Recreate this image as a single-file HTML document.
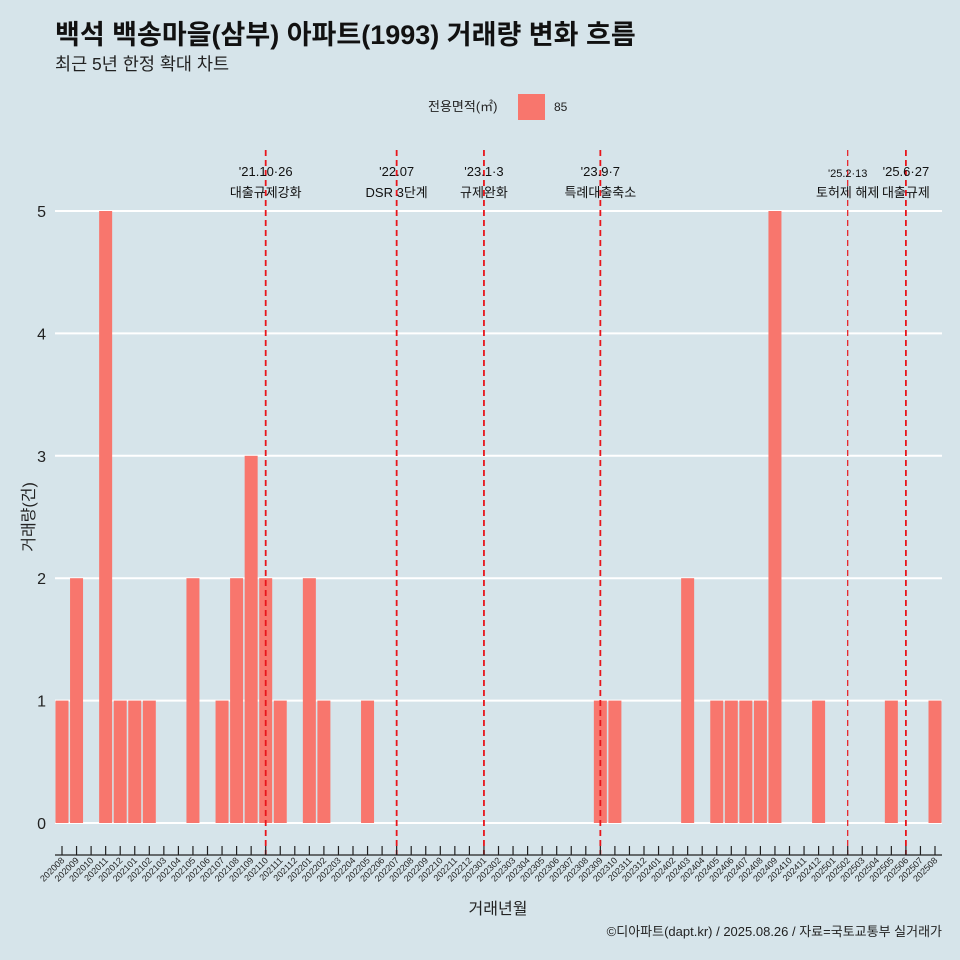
<!DOCTYPE html>
<html><head><meta charset="utf-8"><style>
body{margin:0;background:#d6e4ea;}
svg{display:block;font-family:"Liberation Sans","Noto Sans CJK KR",sans-serif;}
</style></head><body>
<svg id="chart" width="960" height="960">
<rect width="960" height="960" fill="#d6e4ea"/>
<text x="55" y="44" font-size="27" font-weight="bold" fill="#111">백석 백송마을(삼부) 아파트(1993) 거래량 변화 흐름</text>
<text x="55" y="70" font-size="17.5" fill="#222">최근 5년 한정 확대 차트</text>
<g>
<text x="428" y="111" font-size="13" fill="#222">전용면적(㎡)</text>
<rect x="518" y="94" width="27" height="26" fill="#F8766D"/>
<text x="554" y="111" font-size="12" fill="#222">85</text>
</g>
<g id="grid"></g><g id="bars"></g><g id="events"></g><g id="axes"></g>
<text x="498" y="914" font-size="16" text-anchor="middle" fill="#222">거래년월</text>
<text transform="translate(34,517) rotate(-90)" font-size="16" text-anchor="middle" fill="#222">거래량(건)</text>
<text x="942" y="936" font-size="13" text-anchor="end" fill="#222">©디아파트(dapt.kr) / 2025.08.26 / 자료=국토교통부 실거래가</text>
</svg>
<script>
const months=[];for(let y=2020;y<=2025;y++)for(let m=1;m<=12;m++){const k=y*100+m;if(k>=202008&&k<=202508)months.push(String(k));}
const counts=[1,2,0,5,1,1,1,0,0,2,0,1,2,3,2,1,0,2,1,0,0,1,
0,0,0,0,0,0,0,0,0,0,0,0,0,0,0,
1,1,0,0,0,0,2,0,1,1,1,1,5,0,0,1,0,0,0,0,1,0,0,1];
const yTicks=[0,1,2,3,4,5];
const eventMonths=["202110","202207","202301","202309","202502","202506"];
const eventDates=["'21.10·26","'22.07","'23.1·3","'23.9·7","'25.2·13","'25.6·27"];
const eventLabels=["대출규제강화","DSR 3단계","규제완화","특례대출축소","토허제 해제","대출규제"];
const NS="http://www.w3.org/2000/svg";
const x0=62,step=(935-62)/60,y0=823,yu=(823-211)/5,bw=13;
const X=i=>x0+i*step, Y=v=>y0-v*yu;
function mk(t,a,p){const e=document.createElementNS(NS,t);for(const k in a)e.setAttribute(k,a[k]);p.appendChild(e);return e;}
const grid=document.getElementById('grid'),bars=document.getElementById('bars'),ev=document.getElementById('events'),ax=document.getElementById('axes');
yTicks.forEach(v=>{
 const l=mk('line',{x1:55,x2:942,y1:Y(v),y2:Y(v),stroke:'#fff','stroke-width':2},grid);
 
 
 const t=mk('text',{x:46,y:Y(v)+6,'font-size':16,'text-anchor':'end',fill:'#222'},ax);t.textContent=v;
 
 
});
months.forEach((m,i)=>{
 const v=counts[i]||0;
 if(v>0){const r=mk('rect',{x:X(i)-bw/2,y:Y(v),width:bw,height:v*yu,fill:'#F8766D'},bars);
 
 }
 const tk=mk('line',{x1:X(i),x2:X(i),y1:846,y2:855,stroke:'#222','stroke-width':1.2},ax);
 
 
 const t=mk('text',{transform:`translate(${X(i)+3},${861}) rotate(-45)`,'font-size':9,'text-anchor':'end',fill:'#222'},ax);t.textContent=m;
 
 
});
const al=mk('line',{x1:55,x2:942,y1:855,y2:855,stroke:'#222','stroke-width':1.2},ax);


eventMonths.forEach((m,j)=>{
 const i=months.indexOf(m),x=X(i);
 const l=mk('line',{x1:x,x2:x,y1:150,y2:855,stroke:'#e8151b','stroke-width':j==4?1.2:1.8,'stroke-dasharray':'6,4'},ev);
 
 
 const small=j==4;
 const d=mk('text',{x:x,y:small?177:176,'font-size':small?11:13,'text-anchor':'middle',fill:'#111'},ev);d.textContent=eventDates[j];
 
 
 const t=mk('text',{x:x,y:197,'font-size':13,'text-anchor':'middle',fill:'#111'},ev);t.textContent=eventLabels[j];
 
 
});
</script>
</body></html>
